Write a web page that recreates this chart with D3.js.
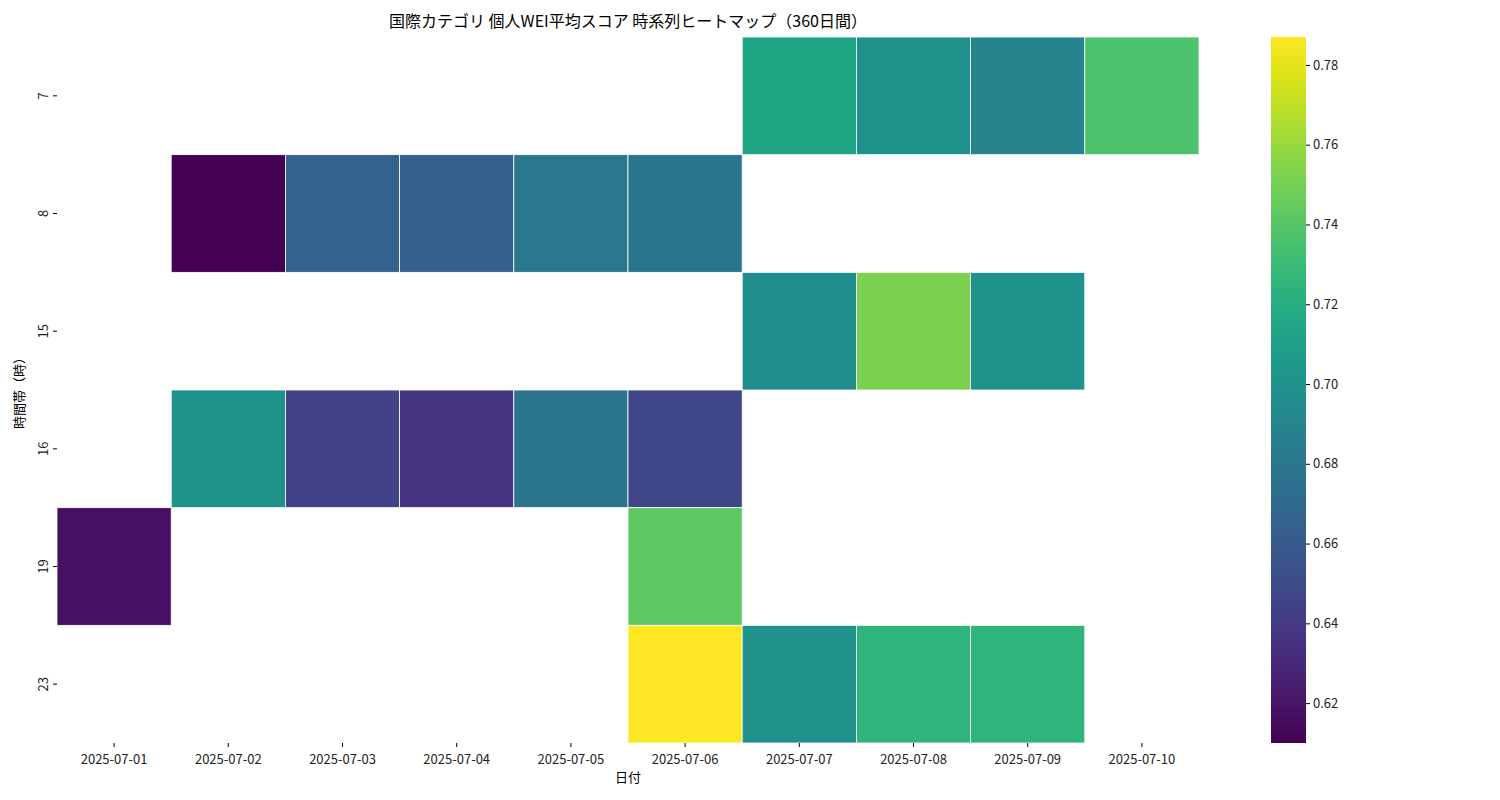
<!DOCTYPE html>
<html><head><meta charset="utf-8">
<script src="https://cdn.jsdelivr.net/npm/d3@7"></script>
<style>body{margin:0;background:#fff;font-family:"Noto Sans CJK JP","DejaVu Sans",sans-serif}</style>
</head><body><svg id="c" width="1500" height="800"></svg>
<script>
const dates = ["2025-07-01","2025-07-02","2025-07-03","2025-07-04","2025-07-05","2025-07-06","2025-07-07","2025-07-08","2025-07-09","2025-07-10"];
const hours = ["7","8","15","16","19","23"];
// [hour, date, value]
const cells = [
  ["7","2025-07-07",0.715],["7","2025-07-08",0.700],["7","2025-07-09",0.690],["7","2025-07-10",0.737],
  ["8","2025-07-02",0.610],["8","2025-07-03",0.665],["8","2025-07-04",0.663],["8","2025-07-05",0.680],["8","2025-07-06",0.678],
  ["15","2025-07-07",0.697],["15","2025-07-08",0.752],["15","2025-07-09",0.700],
  ["16","2025-07-02",0.700],["16","2025-07-03",0.645],["16","2025-07-04",0.637],["16","2025-07-05",0.679],["16","2025-07-06",0.648],
  ["19","2025-07-01",0.617],["19","2025-07-06",0.743],
  ["23","2025-07-06",0.787],["23","2025-07-07",0.700],["23","2025-07-08",0.725],["23","2025-07-09",0.725]
];
const vmin = d3.min(cells, d => d[2]), vmax = d3.max(cells, d => d[2]);
const FONT = '"Noto Sans CJK JP","DejaVu Sans",sans-serif';
const svg = d3.select("#c");
const L = 57, R = 1199, T = 37, B = 743;
const x = d3.scaleBand().domain(dates).range([L, R]);
const y = d3.scaleBand().domain(hours).range([T, B]);
const color = d3.scaleSequential(d3.interpolateViridis).domain([vmin, vmax]);

svg.selectAll("rect.cell").data(cells).join("rect")
  .attr("x", d => x(d[1])).attr("y", d => y(d[0]))
  .attr("width", x.bandwidth()).attr("height", y.bandwidth())
  .attr("fill", d => color(d[2])).attr("stroke", "#fff").attr("stroke-width", 0.8);

const xa = svg.append("g").attr("transform", `translate(0,${B})`).call(d3.axisBottom(x).tickSize(4));
xa.select(".domain").remove();
xa.selectAll("text").attr("font-size", 13).attr("dy", "1.1em").attr("fill", "#222");
const ya = svg.append("g").attr("transform", `translate(${L},0)`).call(d3.axisLeft(y).tickSize(4));
ya.select(".domain").remove();
ya.selectAll(".tick text").attr("font-size", 13).attr("fill", "#222").attr("text-anchor", "middle")
  .attr("transform", "rotate(-90)").attr("x", 0).attr("y", -14).attr("dy", "0.35em");

svg.append("text").attr("x", 628).attr("y", 27).attr("text-anchor", "middle").attr("font-size", 16)
  .text("国際カテゴリ 個人WEI平均スコア 時系列ヒートマップ（360日間）");
svg.append("text").attr("x", 628).attr("y", 782).attr("text-anchor", "middle").attr("font-size", 13).text("日付");
svg.append("text").attr("transform", "translate(24,390) rotate(-90)").attr("text-anchor", "middle").attr("font-size", 13).text("時間帯（時）");

// colorbar
const cy = d3.scaleLinear().domain([vmin, vmax]).range([B, T]);
const grad = svg.append("defs").append("linearGradient").attr("id", "g").attr("x1", 0).attr("x2", 0).attr("y1", 1).attr("y2", 0);
d3.range(0, 1.001, 0.05).forEach(t => grad.append("stop").attr("offset", t).attr("stop-color", d3.interpolateViridis(t)));
svg.append("rect").attr("x", 1271).attr("y", T).attr("width", 35).attr("height", B - T).attr("fill", "url(#g)");
const ca = svg.append("g").attr("transform", "translate(1306,0)")
  .call(d3.axisRight(cy).tickValues(d3.range(0.62, 0.781, 0.02)).tickFormat(d3.format(".2f")).tickSize(4));
ca.select(".domain").remove();
ca.selectAll("text").attr("font-size", 13).attr("fill", "#222");

svg.selectAll("g").attr("font-family", FONT);
</script></body></html>
